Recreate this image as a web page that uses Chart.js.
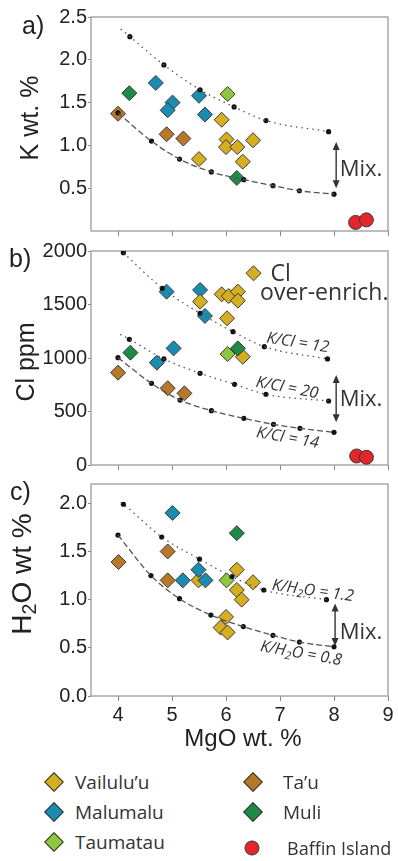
<!DOCTYPE html>
<html>
<head>
<meta charset="utf-8">
<script src="https://cdn.jsdelivr.net/npm/chart.js@4.4.1/dist/chart.umd.min.js"></script>
<style>
  body { margin: 0; background: #fff; }
  #wrap { position: relative; width: 398px; height: 861px; overflow: hidden; font-family: "Liberation Sans", Arial, sans-serif; color: #222; }
  #wrap canvas { position: absolute; left: 0; }
  .lbl { position: absolute; line-height: 1; white-space: nowrap; transform: translateY(-50%); }
  .ytitle { position: absolute; line-height: 1; white-space: nowrap; transform: translate(-50%, -50%) rotate(-90deg); }
  .ytitle sub { font-size: 0.7em; vertical-align: -0.25em; }
  .leg { position: absolute; font-family: "Open Sans", sans-serif; font-size: 19px; line-height: 1; white-space: nowrap; transform: translateY(-50%); color: #333; }
  .dia { position: absolute; width: 12px; height: 12px; border: 1px solid #333; transform: translate(-50%, -50%) rotate(45deg); }
  .dot { position: absolute; width: 13px; height: 13px; border: 1px solid #333; border-radius: 50%; transform: translate(-50%, -50%); }
</style>
</head>
<body>
<div id="wrap">
  <canvas id="chartA" width="398" height="245" style="top:0px"></canvas>
  <canvas id="chartB" width="398" height="244" style="top:236px"></canvas>
  <canvas id="chartC" width="398" height="260" style="top:470px"></canvas>

  <div class="lbl" style="left:22px; top:25px; font-size:25px;">a)</div>
  <div class="lbl" style="left:9px; top:258px; font-size:25px;">b)</div>
  <div class="lbl" style="left:10px; top:491px; font-size:25px;">c)</div>

  <div class="ytitle" style="left:29px; top:118px; font-size:25px;">K wt. %</div>
  <div class="ytitle" style="left:25px; top:362px; font-size:25px;">Cl ppm</div>
  <div class="ytitle" style="left:24px; top:574px; font-size:28px;">H<sub>2</sub>O wt %</div>
  <div class="lbl" style="left:243px; top:738px; font-size:24px; transform:translate(-50%,-50%);">MgO wt. %</div>

  <div id="legend"></div>
</div>

<script>
// tick labels
const xTicks = [4, 5, 6, 7, 8, 9];
const kTicks = [0.5, 1.0, 1.5, 2.0, 2.5];
const clTicks = [0, 500, 1000, 1500, 2000];
const h2oTicks = [0.0, 0.5, 1.0, 1.5, 2.0];

// a) MgO vs K wt.%
const vailuluK = [[5.92, 1.30], [6.01, 1.07], [6.00, 0.98], [6.21, 0.98], [6.50, 1.06], [6.31, 0.81], [5.50, 0.84]];
const malumaluK = [[4.70, 1.73], [5.01, 1.50], [4.92, 1.41], [5.50, 1.58], [5.61, 1.36]];
const taumatauK = [[6.03, 1.60]];
const tauK = [[4.00, 1.37], [4.90, 1.13], [5.21, 1.08]];
const muliK = [[4.21, 1.61], [6.20, 0.62]];
const baffinK = [[8.40, 0.10], [8.60, 0.13]];
const kUpperStart = [4.05, 2.36];
const kUpper = [[4.22, 2.27], [4.85, 1.94], [5.52, 1.65], [6.15, 1.45], [6.74, 1.29], [7.90, 1.16]];
const kLower = [[4.00, 1.38], [4.62, 1.05], [5.14, 0.84], [5.73, 0.69], [6.33, 0.60], [6.87, 0.53], [7.36, 0.47], [8.00, 0.43]];

// b) MgO vs Cl ppm
const vailuluCl = [[5.52, 1526], [5.92, 1595], [6.05, 1579], [6.22, 1620], [6.22, 1536], [6.02, 1371], [6.31, 1012]];
const malumaluCl = [[4.90, 1620], [5.52, 1636], [5.61, 1393], [4.72, 956], [5.03, 1090]];
const taumatauCl = [[6.03, 1037]];
const tauCl = [[4.00, 863], [4.92, 717], [5.23, 670]];
const muliCl = [[4.23, 1050], [6.22, 1090]];
const baffinCl = [[8.42, 84], [8.60, 72]];
const clKeyMarker = [[6.51, 1792]];
const cl12 = [[4.10, 1984], [4.82, 1651], [5.52, 1418], [6.13, 1246], [6.71, 1106], [7.88, 991]];
const cl20Start = [4.04, 1221];
const cl20 = [[4.21, 1175], [4.85, 991], [5.52, 857], [6.16, 754], [6.74, 661], [7.90, 598]];
const cl14 = [[4.00, 1003], [4.62, 763], [5.15, 607], [5.73, 508], [6.33, 436], [6.88, 380], [7.37, 343], [8.00, 305]];

// c) MgO vs H2O wt.%
const vailuluH2O = [[5.49, 1.20], [6.20, 1.31], [6.20, 1.10], [6.29, 1.00], [6.50, 1.18], [6.00, 0.82], [5.90, 0.71], [6.03, 0.66]];
const malumaluH2O = [[5.01, 1.90], [5.49, 1.31], [5.20, 1.20], [5.62, 1.20]];
const taumatauH2O = [[6.01, 1.20]];
const tauH2O = [[4.01, 1.39], [4.92, 1.50], [4.92, 1.20]];
const muliH2O = [[6.20, 1.69]];
const h12Start = [4.05, 2.01];
const h12 = [[4.10, 1.99], [4.81, 1.65], [5.51, 1.42], [6.11, 1.24], [6.70, 1.10], [7.86, 1.00]];
const h08 = [[4.00, 1.67], [4.61, 1.25], [5.14, 1.01], [5.72, 0.84], [6.32, 0.72], [6.87, 0.63], [7.36, 0.56], [8.00, 0.51]];

const colors = {
    vailulu: '#D6AE22',
    malumalu: '#1A8CB0',
    taumatau: '#8DC63F',
    tau: '#B8782A',
    muli: '#1D8A45',
    baffin: '#E3262B'
};

const toXY = pts => pts.map(p => ({ x: p[0], y: p[1] }));

function diamonds(pts, color) {
    return { data: toXY(pts), pointStyle: 'rectRot', pointRadius: 7.5, backgroundColor: color, borderColor: '#3a3a3a', borderWidth: 1 };
}
function circles(pts, color) {
    return { data: toXY(pts), pointStyle: 'circle', pointRadius: 7, backgroundColor: color, borderColor: '#3a3a3a', borderWidth: 1 };
}
function curve(pts, dash) {
    return { data: toXY(pts), showLine: true, borderDash: dash, borderColor: '#555', borderWidth: 1.3,
             pointRadius: 0, cubicInterpolationMode: 'monotone', fill: false };
}
function dots(pts) {
    return { data: toXY(pts), pointRadius: 2.6, backgroundColor: '#111', borderWidth: 0 };
}

const DOTTED = [1.5, 4];
const DASHED = [6, 3];

// box around plot area + text / arrows placed in data coordinates
function notesPlugin(notes) {
    return {
        id: 'notes',
        beforeDatasetsDraw(chart) {
            const a = chart.chartArea;
            const ctx = chart.ctx;
            ctx.save();
            ctx.strokeStyle = '#9a9a9a';
            ctx.lineWidth = 1.3;
            ctx.strokeRect(a.left, a.top, a.right - a.left, a.bottom - a.top);
            ctx.restore();
        },
        afterDatasetsDraw(chart) {
            const ctx = chart.ctx;
            const x = chart.scales.x, y = chart.scales.y;
            ctx.save();
            notes.forEach(n => {
                const px = x.getPixelForValue(n.x);
                if (n.type === 'mix') {
                    const y1 = y.getPixelForValue(n.y1), y2 = y.getPixelForValue(n.y2);
                    ctx.strokeStyle = '#333';
                    ctx.fillStyle = '#333';
                    ctx.lineWidth = 1.4;
                    ctx.beginPath(); ctx.moveTo(px, y1 + 5); ctx.lineTo(px, y2 - 5); ctx.stroke();
                    ctx.beginPath(); ctx.moveTo(px, y1); ctx.lineTo(px - 3.5, y1 + 8); ctx.lineTo(px + 3.5, y1 + 8); ctx.fill();
                    ctx.beginPath(); ctx.moveTo(px, y2); ctx.lineTo(px - 3.5, y2 - 8); ctx.lineTo(px + 3.5, y2 - 8); ctx.fill();
                    return;
                }
                const py = y.getPixelForValue(n.y);
                const parts = n.parts || [{ t: n.text }];
                const fonts = parts.map(p => (n.italic ? 'italic ' : '') + (p.sub ? n.size * 0.7 : n.size) + 'px "Open Sans", sans-serif');
                ctx.save();
                ctx.translate(px, py);
                ctx.rotate((n.rot || 0) * Math.PI / 180);
                ctx.fillStyle = n.color || '#333';
                ctx.textAlign = 'left';
                ctx.textBaseline = 'middle';
                let w = 0;
                parts.forEach((p, i) => { ctx.font = fonts[i]; w += ctx.measureText(p.t).width; });
                let cx = -w / 2;
                parts.forEach((p, i) => {
                    ctx.font = fonts[i];
                    ctx.fillText(p.t, cx, p.sub ? n.size * 0.3 : 0);
                    cx += ctx.measureText(p.t).width;
                });
                ctx.restore();
            });
            ctx.restore();
        }
    };
}

function makeChart(id, datasets, yMin, yMax, yTicks, fmt, showX, padTop, xHeight, notes) {
    const tickFont = { family: '"Liberation Sans", Arial, sans-serif', size: 20 };
    return new Chart(document.getElementById(id), {
        type: 'scatter',
        data: { datasets: datasets },
        options: {
            responsive: false,
            animation: false,
            devicePixelRatio: 1,
            layout: { padding: { top: padTop, right: 10, left: 0, bottom: 0 } },
            plugins: { legend: { display: false }, tooltip: { enabled: false } },
            scales: {
                x: {
                    type: 'linear', min: 3.5, max: 9,
                    afterBuildTicks: axis => { axis.ticks = xTicks.map(v => ({ value: v })); },
                    afterFit: axis => { axis.height = xHeight; },
                    grid: { display: true, drawOnChartArea: false, drawTicks: true, tickLength: 5, color: '#888' },
                    border: { display: false },
                    ticks: { display: showX, font: tickFont, color: '#222', padding: 2 }
                },
                y: {
                    type: 'linear', min: yMin, max: yMax,
                    afterBuildTicks: axis => { axis.ticks = yTicks.map(v => ({ value: v })); },
                    afterFit: axis => { axis.width = 91; },
                    grid: { display: true, drawOnChartArea: false, drawTicks: true, tickLength: 3, color: '#888' },
                    border: { display: false },
                    ticks: { font: tickFont, color: '#222', padding: 1, callback: fmt }
                }
            }
        },
        plugins: [notesPlugin(notes)]
    });
}

const oneDec = v => Number(v).toFixed(1);
const whole = v => String(Math.round(v));

// panel a
makeChart('chartA', [
    curve([kUpperStart, ...kUpper], DOTTED),
    dots(kUpper),
    curve(kLower, DASHED),
    dots(kLower),
    diamonds(muliK, colors.muli),
    diamonds(taumatauK, colors.taumatau),
    diamonds(vailuluK, colors.vailulu),
    diamonds(malumaluK, colors.malumalu),
    diamonds(tauK, colors.tau),
    circles(baffinK, colors.baffin)
], 0, 2.5, kTicks, oneDec, false, 17, 14, [
    { type: 'mix', x: 8.04, y1: 1.04, y2: 0.50 },
    { x: 8.5, y: 0.71, text: 'Mix.', size: 22 }
]);

// panel b
makeChart('chartB', [
    curve(cl12, DOTTED),
    dots(cl12),
    curve([cl20Start, ...cl20], DOTTED),
    dots(cl20),
    curve(cl14, DASHED),
    dots(cl14),
    diamonds(muliCl, colors.muli),
    diamonds(taumatauCl, colors.taumatau),
    diamonds(vailuluCl, colors.vailulu),
    diamonds(malumaluCl, colors.malumalu),
    diamonds(tauCl, colors.tau),
    diamonds(clKeyMarker, colors.vailulu),
    circles(baffinCl, colors.baffin)
], 0, 2000, clTicks, whole, false, 15, 15, [
    { x: 7.01, y: 1785, text: 'Cl', size: 23 },
    { x: 7.82, y: 1607, text: 'over-enrich.', size: 23 },
    { x: 7.33, y: 1140, text: 'K/Cl = 12', size: 16, italic: true, rot: 9 },
    { x: 7.13, y: 720, text: 'K/Cl = 20', size: 16, italic: true, rot: 11 },
    { x: 7.14, y: 252, text: 'K/Cl = 14', size: 16, italic: true, rot: 10 },
    { type: 'mix', x: 8.04, y1: 841, y2: 400 },
    { x: 8.5, y: 607, text: 'Mix.', size: 22 }
]);

// panel c
makeChart('chartC', [
    curve([h12Start, ...h12], DOTTED),
    dots(h12),
    curve(h08, DASHED),
    dots(h08),
    diamonds(taumatauH2O, colors.taumatau),
    diamonds(malumaluH2O, colors.malumalu),
    diamonds(vailuluH2O, colors.vailulu),
    diamonds(muliH2O, colors.muli),
    diamonds(tauH2O, colors.tau)
], 0, 2.2, h2oTicks, oneDec, true, 14, 34, [
    { x: 7.61, y: 1.09, parts: [{ t: 'K/H' }, { t: '2', sub: true }, { t: 'O = 1.2' }], size: 16, italic: true, rot: 8 },
    { x: 7.39, y: 0.44, parts: [{ t: 'K/H' }, { t: '2', sub: true }, { t: 'O = 0.8' }], size: 16, italic: true, rot: 10 },
    { type: 'mix', x: 8.02, y1: 0.96, y2: 0.52 },
    { x: 8.5, y: 0.66, text: 'Mix.', size: 22 }
]);

// legend (html)
const legendItems = [
    { name: 'Vailulu’u', color: colors.vailulu, shape: 'dia', mx: 54, tx: 75, y: 782 },
    { name: 'Malumalu', color: colors.malumalu, shape: 'dia', mx: 54, tx: 75, y: 812 },
    { name: 'Taumatau', color: colors.taumatau, shape: 'dia', mx: 54, tx: 75, y: 842 },
    { name: 'Ta’u', color: colors.tau, shape: 'dia', mx: 253, tx: 283, y: 782 },
    { name: 'Muli', color: colors.muli, shape: 'dia', mx: 253, tx: 283, y: 812 },
    { name: 'Baffin Island', color: colors.baffin, shape: 'dot', mx: 252, tx: 287, y: 848, size: 18 }
];
const legend = document.getElementById('legend');
legendItems.forEach(item => {
    const m = document.createElement('div');
    m.className = item.shape;
    m.style.left = item.mx + 'px';
    m.style.top = item.y + 'px';
    m.style.background = item.color;
    legend.appendChild(m);
    const t = document.createElement('div');
    t.className = 'leg';
    t.style.left = item.tx + 'px';
    t.style.top = item.y + 'px';
    if (item.size) t.style.fontSize = item.size + 'px';
    t.textContent = item.name;
    legend.appendChild(t);
});
</script>
</body>
</html>
